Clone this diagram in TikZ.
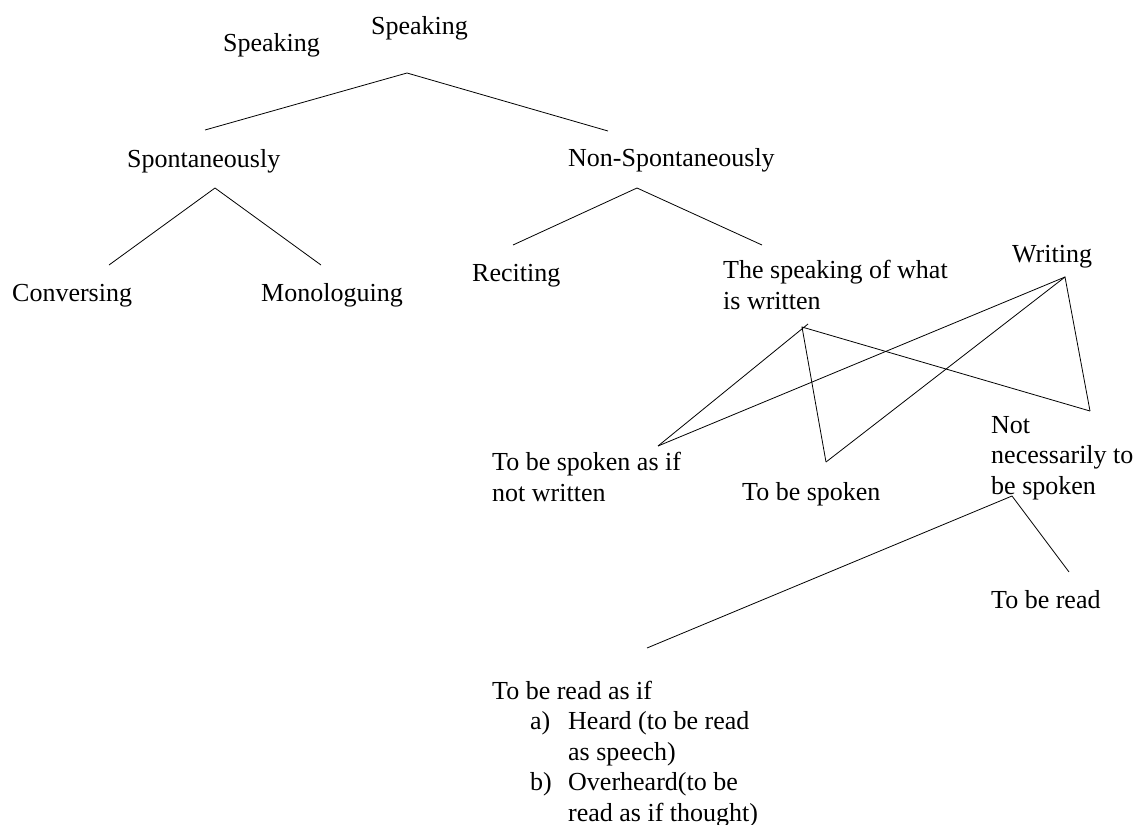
\documentclass[tikz,border=0pt]{standalone}
\usepackage{fontspec}
\setmainfont{Liberation Serif}
\usepackage{tikz}

\begin{document}
\begin{tikzpicture}[x=1pt,y=-1pt,
    lbl/.style={anchor=base west, inner sep=0pt, align=left,
        font=\fontsize{26}{30.5}\selectfont},
    branch/.style={line width=0.8pt, black}]
\useasboundingbox (0,0) rectangle (1136,825);

% labels (multi-line ones sit on the baseline of their last line)
\node[lbl] (speakA) at (223,51) {Speaking};
\node[lbl] (speakB) at (371,34) {Speaking};
\node[lbl] (spont) at (127,167) {Spontaneously};
\node[lbl] (nonspont) at (568,166) {Non-Spontaneously};
\node[lbl] (convers) at (12,301) {Conversing};
\node[lbl] (monolog) at (261,301) {Monologuing};
\node[lbl] (recit) at (472,281) {Reciting};
\node[lbl] (written) at (723,309) {The speaking of what\\is written};
\node[lbl] (writing) at (1012,262) {Writing};
\node[lbl] (asif) at (492,501) {To be spoken as if\\not written};
\node[lbl] (spoken) at (742,500) {To be spoken};
\node[lbl] (notnec) at (991,494) {Not\\necessarily to\\be spoken};
\node[lbl] (read) at (991,608) {To be read};
\node[lbl] (readasif) at (492,821) {To be read as if\\
    \hspace*{38pt}\makebox[38pt][l]{a)}Heard (to be read\\
    \hspace*{76pt}as speech)\\
    \hspace*{38pt}\makebox[38pt][l]{b)}Overheard(to be\\
    \hspace*{76pt}read as if thought)};

% branch points
\coordinate (top) at (407,73);
\coordinate (topL) at (205,130);
\coordinate (topR) at (608,131);
\coordinate (spontUp) at (215,188);
\coordinate (conversUp) at (109,265);
\coordinate (monologUp) at (321,265);
\coordinate (nonspontUp) at (637,188);
\coordinate (recitUp) at (513,245);
\coordinate (writtenUp) at (762,245);
\coordinate (writtenDn) at (802,327);
\coordinate (writtenTip) at (808,324);
\coordinate (writingDn) at (1065,277);
\coordinate (asifUp) at (658,446);
\coordinate (spokenUp) at (826,462);
\coordinate (notnecUp) at (1090,411);
\coordinate (notnecDn) at (1012,496);
\coordinate (readasifUp) at (647,648);
\coordinate (readUp) at (1069,572);

% branches
\draw[branch] (topL) -- (top) -- (topR);
\draw[branch] (conversUp) -- (spontUp) -- (monologUp);
\draw[branch] (recitUp) -- (nonspontUp) -- (writtenUp);
\draw[branch] (asifUp) -- (writtenTip);
\draw[branch] (spokenUp) -- (writtenDn) -- (notnecUp);
\draw[branch] (asifUp) -- (writingDn);
\draw[branch] (spokenUp) -- (writingDn) -- (notnecUp);
\draw[branch] (readasifUp) -- (notnecDn) -- (readUp);
\end{tikzpicture}
\end{document}
